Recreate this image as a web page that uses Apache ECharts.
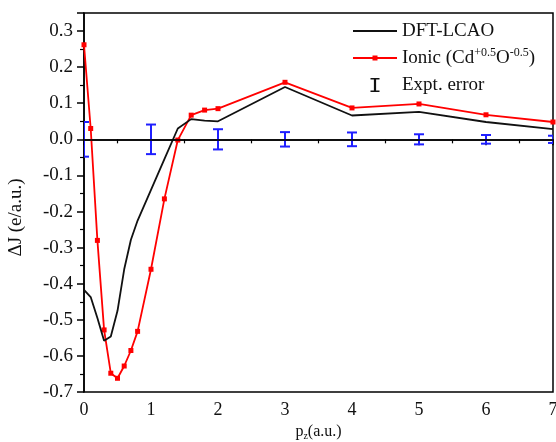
<!DOCTYPE html>
<html>
<head>
<meta charset="utf-8">
<script src="https://cdn.jsdelivr.net/npm/echarts@6/dist/echarts.min.js"></script>
<style>html,body{margin:0;padding:0;background:#fff}#c{width:556px;height:442px}</style>
</head>
<body>
<div id="c"></div>
<script>
const xDft = [0,0.1,0.2,0.3,0.4,0.5,0.6,0.7,0.8,1.0,1.2,1.4,1.6,1.8,2.0,3,4,5,6,7];
const yDft = [-0.417,-0.437,-0.495,-0.558,-0.546,-0.475,-0.36,-0.278,-0.225,-0.14,-0.055,0.03,0.056,0.052,0.05,0.145,0.066,0.076,0.048,0.028];
const xIonic = [0,0.1,0.2,0.3,0.4,0.5,0.6,0.7,0.8,1.0,1.2,1.4,1.6,1.8,2.0,3,4,5,6,7];
const yIonic = [0.262,0.03,-0.28,-0.528,-0.648,-0.662,-0.628,-0.585,-0.532,-0.36,-0.165,-0.002,0.067,0.081,0.085,0.158,0.087,0.098,0.068,0.048];
const xErr = [0,1,2,3,4,5,6,7];
const errHalf = [0.048,0.041,0.028,0.02,0.019,0.014,0.012,0.01];
const seriesNames = ['DFT-LCAO','Ionic (Cd+0.5O-0.5)','Expt. error'];

const FONT = "'Liberation Serif','Times New Roman',serif";
const chart = echarts.init(document.getElementById('c'));
const zip = (xs, ys) => xs.map((x, i) => [x, ys[i]]);

chart.setOption({
  animation: false,
  backgroundColor: '#fff',
  textStyle: {fontFamily: FONT},
  grid: {left: 84, right: 3, top: 13, bottom: 50, show: true, borderColor: '#000', borderWidth: 1.5,
    containLabel: false, outerBoundsMode: 'none'},
  legend: {
    orient: 'vertical', left: 348, top: 15, itemWidth: 44, itemHeight: 14, itemGap: 5,
    symbolKeepAspect: true,
    textStyle: {fontFamily: FONT, fontSize: 19, color: '#111', lineHeight: 22,
      rich: {
        n: {fontFamily: FONT, fontSize: 19, color: '#111', lineHeight: 22},
        sup: {fontFamily: FONT, fontSize: 12, color: '#111', lineHeight: 22, verticalAlign: 'top'}
      }},
    formatter: function (name) {
      if (name === seriesNames[1]) return '{n|Ionic (Cd}{sup|+0.5}{n|O}{sup|-0.5}{n|)}';
      return '{n|' + name + '}';
    },
    data: [
      {name: seriesNames[0], icon: 'path://M0,0H44V1.8H0Z', itemStyle: {color: '#111'}},
      {name: seriesNames[1], icon: 'path://M0,6.1H19.5V4.5H24.5V6.1H44V7.9H24.5V9.5H19.5V7.9H0Z', itemStyle: {color: '#ff0000'}},
      {name: seriesNames[2], icon: 'path://M0,0H9V1.4H5.6V12.6H9V14H0V12.6H3.4V1.4H0Z', itemStyle: {color: '#111'}}
    ]
  },
  xAxis: {
    type: 'value', min: 0, max: 7, interval: 1,
    name: '{n|p}{sub|z}{n|(a.u.)}', nameLocation: 'middle', nameGap: 30,
    nameTextStyle: {rich: {
      n: {fontFamily: FONT, fontSize: 16, color: '#111'},
      sub: {fontFamily: FONT, fontSize: 10, color: '#111', verticalAlign: 'bottom', padding: [8,0,0,0]}
    }},
    axisLine: {lineStyle: {color: '#000', width: 1.5}},
    axisTick: {length: 6, lineStyle: {color: '#000', width: 1.5}},
    minorTick: {show: true, splitNumber: 2, length: 4, lineStyle: {color: '#000', width: 1.2}},
    splitLine: {show: false},
    axisLabel: {fontFamily: FONT, fontSize: 18, color: '#111', margin: 9}
  },
  yAxis: {
    type: 'value', min: -0.7, max: 0.35, interval: 0.1,
    name: 'ΔJ (e/a.u.)', nameLocation: 'middle', nameGap: 58, nameRotate: 90,
    nameTextStyle: {fontFamily: FONT, fontSize: 19, color: '#111', padding: [0, 30, 0, 0]},
    axisLine: {lineStyle: {color: '#000', width: 1.5}},
    axisTick: {length: 7, lineStyle: {color: '#000', width: 1.5}},
    minorTick: {show: true, splitNumber: 2, length: 4, lineStyle: {color: '#000', width: 1.2}},
    splitLine: {show: false},
    axisLabel: {fontFamily: FONT, fontSize: 19, color: '#111', margin: 11,
      formatter: function (v) {
        if (v > 0.31) return '';
        if (Math.abs(v) < 1e-9) return '0.0';
        return v.toFixed(1);
      }}
  },
  series: [
    {
      name: seriesNames[0], type: 'line', data: zip(xDft, yDft),
      showSymbol: false, symbol: 'none', lineStyle: {color: '#111', width: 1.8}, itemStyle: {color: '#111'},
      z: 3,
      markLine: {silent: true, symbol: 'none', label: {show: false},
        lineStyle: {color: '#000', width: 1.5, type: 'solid'}, data: [{yAxis: 0}]}
    },
    {
      name: seriesNames[1], type: 'line', data: zip(xIonic, yIonic),
      symbol: 'rect', symbolSize: 5, lineStyle: {color: '#ff0000', width: 1.8}, itemStyle: {color: '#ff0000'},
      z: 2
    },
    {
      name: seriesNames[2], type: 'custom', clip: true, z: 4,
      itemStyle: {color: '#1f1fff'},
      data: xErr.map((x, i) => [x, -errHalf[i], errHalf[i]]),
      encode: {x: 0, y: [1, 2]},
      renderItem: function (params, api) {
        const lo = api.coord([api.value(0), api.value(1)]);
        const hi = api.coord([api.value(0), api.value(2)]);
        const w = 5;
        const st = {stroke: '#1f1fff', lineWidth: 2};
        return {type: 'group', children: [
          {type: 'line', shape: {x1: lo[0], y1: lo[1], x2: hi[0], y2: hi[1]}, style: st},
          {type: 'line', shape: {x1: lo[0]-w, y1: lo[1], x2: lo[0]+w, y2: lo[1]}, style: st},
          {type: 'line', shape: {x1: hi[0]-w, y1: hi[1], x2: hi[0]+w, y2: hi[1]}, style: st}
        ]};
      }
    }
  ]
});
</script>
</body>
</html>
